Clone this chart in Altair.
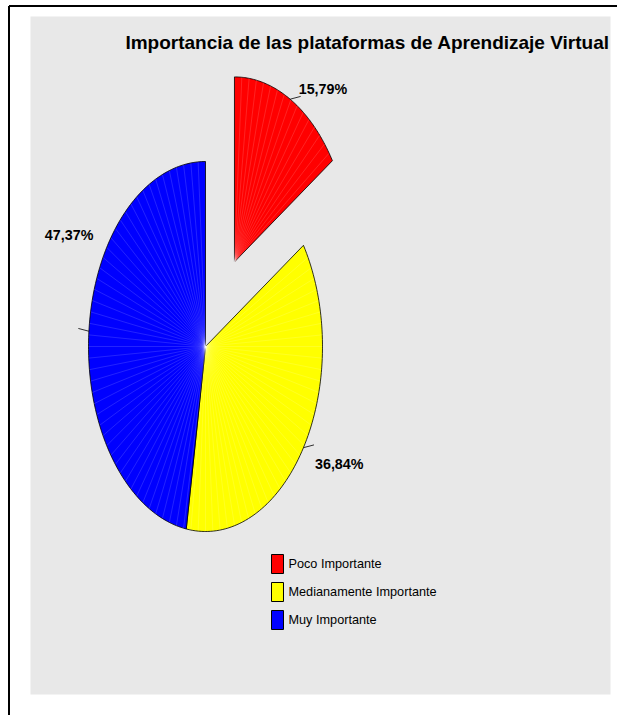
import altair as alt
import pandas as pd

# ---------------- data ----------------
categories = ["Poco Importante", "Medianamente Importante", "Muy Importante"]
percents = [15.79, 36.84, 47.37]
colors = ["#FF0000", "#FFFF00", "#0000FF"]
title_text = "Importancia de las plataformas de Aprendizaje Virtual"

# ---------------- layout ----------------
PAD_L, PAD_T, PAD_R, PAD_B = 30, 16, 7, 21
W, H = 617 - PAD_L - PAD_R, 715 - PAD_T - PAD_B
CX, CY = 205.5 - PAD_L, 346.5 - PAD_T      # pie centre inside plot area (px)
RX, RY = 117, 185                          # pie radii (px)
EXPLODE = {"Poco Importante": 0.52}
N = 90        # vertices per slice outline
NT = 100      # texture seams around the pie
FONT = "Liberation Sans Narrow, Arial Narrow, Liberation Sans, Arial"
BG = "#E8E8E8"

x_dom = [-CX / RX, (W - CX) / RX]
y_dom = [-(H - CY) / RY, CY / RY]
xs = alt.Scale(domain=x_dom, nice=False, zero=False)
ys = alt.Scale(domain=y_dom, nice=False, zero=False)
color_scale = alt.Scale(domain=categories, range=colors)

df = pd.DataFrame({
    "category": categories,
    "percent": percents,
    "idx": list(range(len(categories))),
    "explode": [EXPLODE.get(c, 0.0) for c in categories],
})

base = (
    alt.Chart(df)
    .transform_window(cum="sum(percent)", sort=[alt.SortField("idx")], frame=[None, 0])
    .transform_joinaggregate(total="sum(percent)")
    .transform_calculate(a0="2*PI*(datum.cum - datum.percent)/datum.total")
    .transform_calculate(a1="2*PI*datum.cum/datum.total")
    .transform_calculate(amid="(datum.a0 + datum.a1)/2")
    .transform_calculate(ox="datum.explode*sin(datum.amid)")
    .transform_calculate(oy="datum.explode*cos(datum.amid)")
)

# slices as filled polygons (centre + arc points) on a stretched plot
poly = (
    base.transform_calculate(k=f"sequence(0, {N + 2})")
    .transform_flatten(["k"])
    .transform_calculate(ang=f"datum.a0 + (datum.a1 - datum.a0)*(datum.k - 1)/{N}")
    .transform_calculate(px="datum.ox + (datum.k == 0 ? 0 : sin(datum.ang))")
    .transform_calculate(py="datum.oy + (datum.k == 0 ? 0 : cos(datum.ang))")
    .mark_line(filled=True, interpolate="linear-closed", stroke="black", strokeWidth=0.8)
    .encode(
        x=alt.X("px:Q", scale=xs, axis=None),
        y=alt.Y("py:Q", scale=ys, axis=None),
        color=alt.Color(
            "category:N",
            scale=color_scale,
            legend=alt.Legend(
                title=None,
                orient="none",
                legendX=237.5,
                legendY=538,
                symbolType="M-0.63,-1H0.63V1H-0.63Z",
                symbolSize=361,
                symbolStrokeColor="black",
                symbolStrokeWidth=1,
                symbolOpacity=1,
                labelFont=FONT,
                labelFontSize=12.7,
                labelLimit=400,
                labelColor="black",
                labelOffset=1,
                rowPadding=4,
                padding=0,
            ),
        ),
        order=alt.Order("k:Q"),
    )
)

# faint radial seams inside the slices
tex = (
    base.transform_calculate(m=f"sequence(1, {NT + 1})")
    .transform_flatten(["m"])
    .transform_calculate(ang=f"datum.m*2*PI/{NT}")
    .transform_filter("datum.ang > datum.a0 + 0.02 && datum.ang < datum.a1 - 0.02")
    .transform_calculate(tx="datum.ox + sin(datum.ang)")
    .transform_calculate(ty="datum.oy + cos(datum.ang)")
    .mark_rule(color="white", strokeWidth=0.5, opacity=0.28)
    .encode(
        x=alt.X("ox:Q", scale=xs, axis=None),
        y=alt.Y("oy:Q", scale=ys, axis=None),
        x2="tx:Q",
        y2="ty:Q",
    )
)

lead_base = (
    base.transform_calculate(sx="datum.ox + sin(datum.amid)")
    .transform_calculate(sy="datum.oy + cos(datum.amid)")
    .transform_calculate(lx="datum.sx + (sin(datum.amid) >= 0 ? 1 : -1)*0.09")
    .transform_calculate(ly="datum.sy + 0.015")
    .transform_calculate(label="replace(format(datum.percent, '.2f'), '.', ',') + '%'")
)

leaders = lead_base.mark_rule(color="black", strokeWidth=0.8).encode(
    x=alt.X("sx:Q", scale=xs, axis=None),
    y=alt.Y("sy:Q", scale=ys, axis=None),
    x2="lx:Q",
    y2="ly:Q",
)

label_style = {
    "Poco Importante": dict(align="left", dx=-2, dy=-6),
    "Medianamente Importante": dict(align="left", dx=1, dy=20),
    "Muy Importante": dict(align="right", dx=15, dy=-92),
}
labels = [
    lead_base.transform_filter(alt.datum.category == c)
    .mark_text(font=FONT, fontSize=14.3, fontWeight="bold", color="black", baseline="middle", **st)
    .encode(
        x=alt.X("lx:Q", scale=xs, axis=None),
        y=alt.Y("ly:Q", scale=ys, axis=None),
        text="label:N",
    )
    for c, st in label_style.items()
]

one = alt.Chart(pd.DataFrame({"a": [0]}))
title = one.mark_text(
    text=title_text, font=FONT, fontSize=19, fontWeight="bold", color="black",
    align="right", baseline="middle",
).encode(x=alt.value(579), y=alt.value(27))

border_left = one.mark_rule(color="black", strokeWidth=2).encode(
    x=alt.value(9 - PAD_L), y=alt.value(6 - PAD_T), y2=alt.value(H + PAD_B + 5)
)
border_top = one.mark_rule(color="black", strokeWidth=2).encode(
    x=alt.value(9 - PAD_L), x2=alt.value(W + PAD_R + 5), y=alt.value(6 - PAD_T)
)

chart = (
    alt.layer(border_left, border_top, title, poly, tex, leaders, *labels)
    .properties(
        width=W,
        height=H,
        padding={"left": PAD_L, "top": PAD_T, "right": PAD_R, "bottom": PAD_B},
        autosize=alt.AutoSizeParams(type="none"),
        background="white",
    )
    .configure_view(fill=BG, strokeOpacity=0)
)

chart.save("out.html", embed_options={"renderer": "svg", "actions": False})
